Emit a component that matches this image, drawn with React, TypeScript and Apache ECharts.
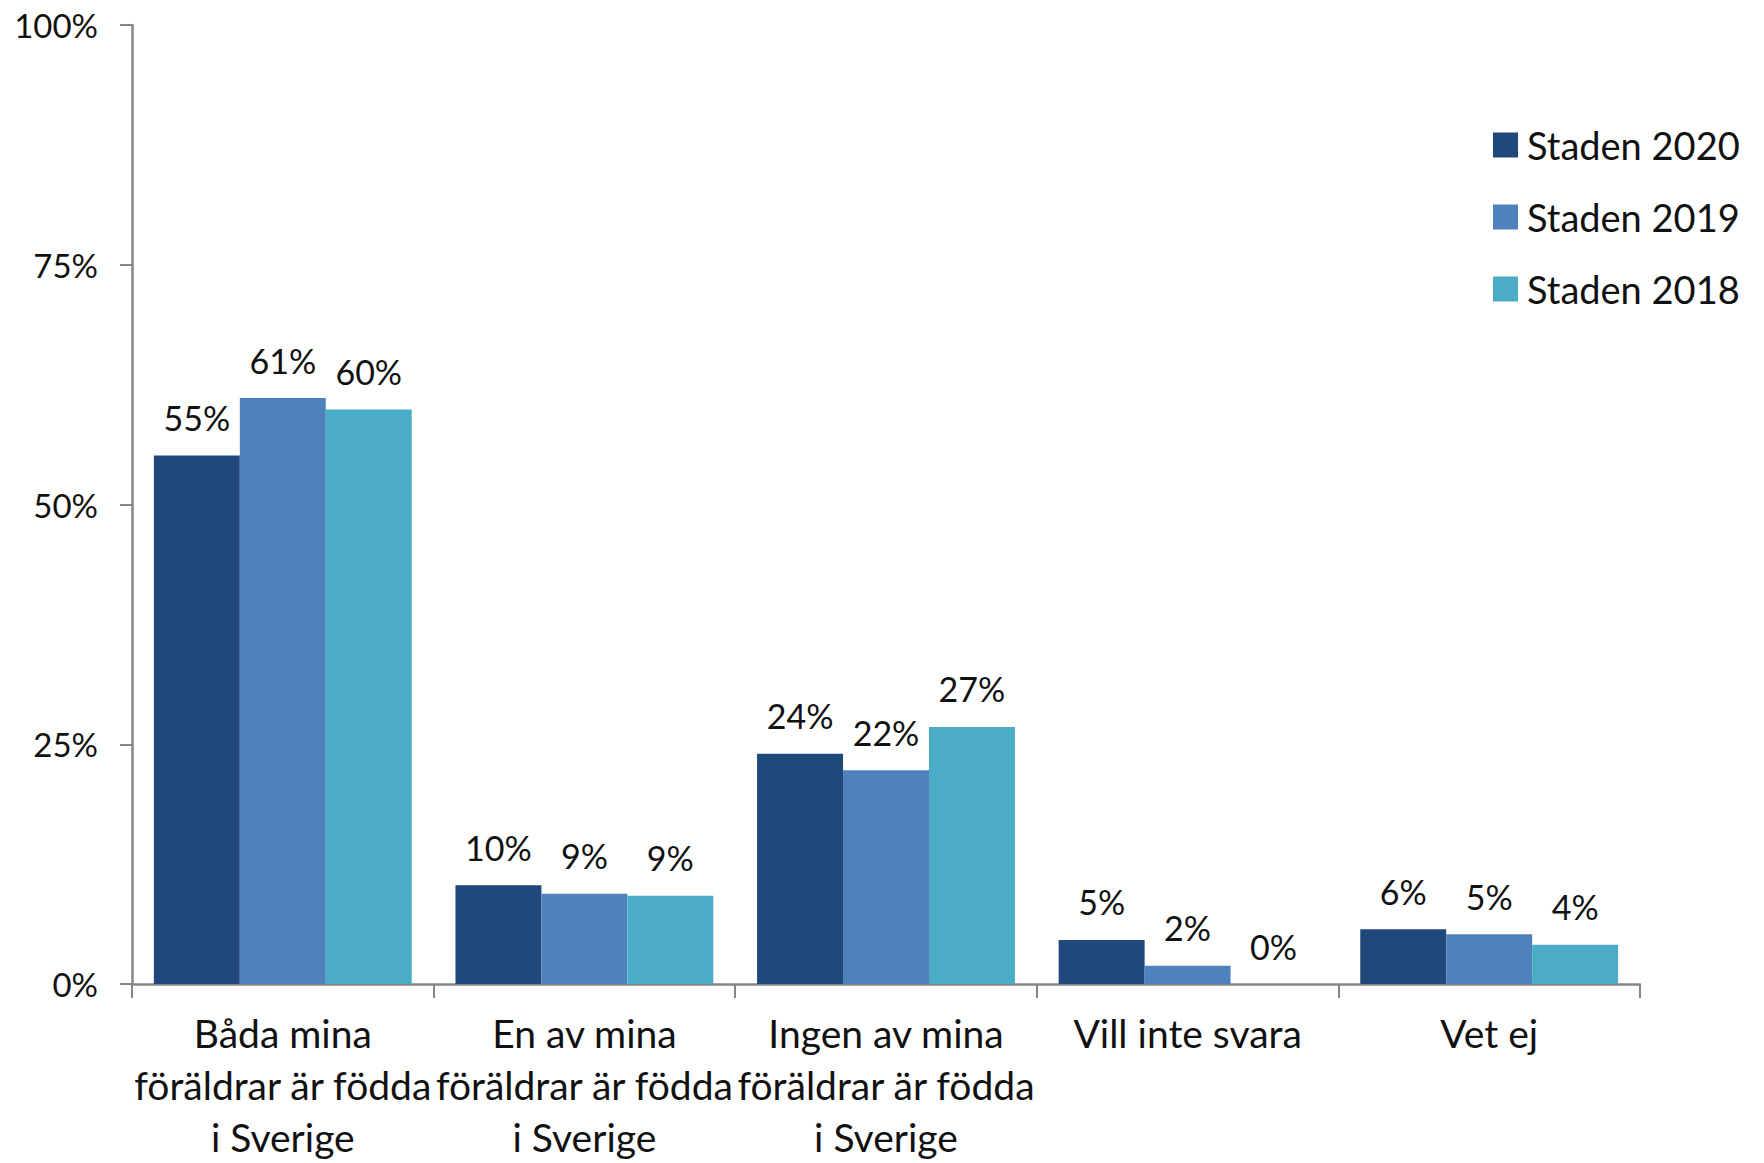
import React, { useEffect, useRef } from "react";
import * as echarts from "echarts";

const categories = [
  "Båda mina\nföräldrar är födda\ni Sverige",
  "En av mina\nföräldrar är födda\ni Sverige",
  "Ingen av mina\nföräldrar är födda\ni Sverige",
  "Vill inte svara",
  "Vet ej",
];
const seriesNames = ["Staden 2020", "Staden 2019", "Staden 2018"];
const staden2020 = [55.1, 10.3, 24.0, 4.6, 5.7];
const staden2019 = [61.1, 9.4, 22.3, 1.9, 5.2];
const staden2018 = [59.9, 9.2, 26.8, 0, 4.1];
const colors = ["#21487A", "#4F81BD", "#4BACC6"];

const FONT = "Lato";

export default function App() {
  const ref = useRef<HTMLDivElement>(null);
  useEffect(() => {
    document.body.style.margin = "0";
    const chart = echarts.init(ref.current!, null, { renderer: "svg" });
    const values = [staden2020, staden2019, staden2018];
    chart.setOption({
      animation: false,
      backgroundColor: "#ffffff",
      textStyle: { fontFamily: FONT },
      grid: { left: 132, right: 124, top: 25, bottom: 167, containLabel: false },
      legend: {
        orient: "vertical",
        left: 1488,
        top: 121,
        itemWidth: 25,
        itemHeight: 25,
        itemGap: 34,
        icon: "rect",
        data: seriesNames,
        textStyle: { fontFamily: FONT, fontSize: 38, color: "#111", padding: [0, 0, 0, 4] },
      },
      xAxis: {
        type: "category",
        data: categories,
        axisLine: { lineStyle: { color: "#868686", width: 2.5 } },
        axisTick: { show: true, length: 14, lineStyle: { color: "#868686", width: 2 } },
        axisLabel: {
          interval: 0,
          margin: 23,
          fontFamily: FONT,
          fontSize: 39,
          lineHeight: 52,
          color: "#111",
          overflow: "none",
        },
      },
      yAxis: {
        type: "value",
        min: 0,
        max: 100,
        interval: 25,
        splitLine: { show: false },
        axisLine: { show: true, lineStyle: { color: "#868686", width: 2.5 } },
        axisTick: { show: true, length: 12, lineStyle: { color: "#868686", width: 2 } },
        axisLabel: {
          margin: 34,
          formatter: "{value}%",
          fontFamily: FONT,
          fontSize: 33,
          color: "#111",
        },
      },
      series: seriesNames.map((name, i) => ({
        name,
        type: "bar",
        data: values[i],
        barGap: "0%",
        barCategoryGap: "14.5%",
        itemStyle: { color: colors[i] },
        label: {
          show: true,
          position: "top",
          distance: 21,
          fontFamily: FONT,
          fontSize: 34,
          color: "#111",
          formatter: (p: any) => Math.round(p.value) + "%",
        },
      })),
    });
    return () => chart.dispose();
  }, []);
  return <div ref={ref} style={{ width: 1764, height: 1163 }} />;
}
